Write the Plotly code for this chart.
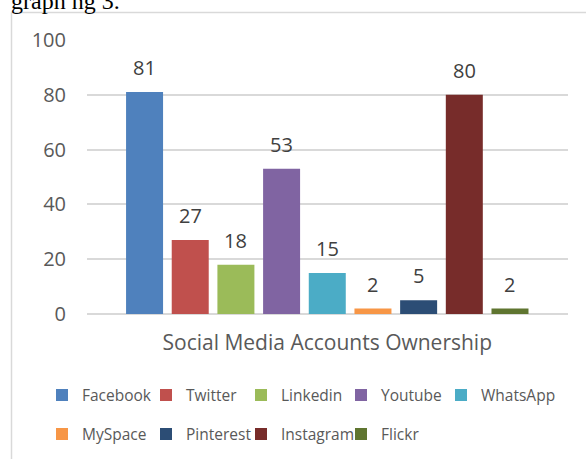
import plotly.graph_objects as go

# ---- data ----
platforms = ["Facebook", "Twitter", "Linkedin", "Youtube", "WhatsApp",
             "MySpace", "Pinterest", "Instagram", "Flickr"]
counts = [81, 27, 18, 53, 15, 2, 5, 80, 2]
colors = ["#4f81bd", "#c0504d", "#9bbb59", "#8064a2", "#4bacc6",
          "#f79646", "#2c4d75", "#772c2a", "#5f7530"]
category_label = "Social Media Accounts Ownership"
y_ticks = [0, 20, 40, 60, 80, 100]

FONT = "Open Sans"
GRAY = "#595959"
GRID = "#d9d9d9"

# plot-area geometry (pixels) used to convert to paper coordinates
L, R, T, B = 87, 18, 40, 145.3
W, H = 586, 459
PW, PH = W - L - R, H - T - B


def px_x(px):
    return (px - L) / PW


def px_y(py):
    return (H - B - py) / PH


# legend grid: 5 columns, 2 rows (each entry gets its own legend box)
LEG_COLS = [42, 146, 241, 341, 441]
LEG_ROWS = [395, 434]
N_COLS = 5


def legend_id(i):
    return "legend" if i == 0 else f"legend{i + 1}"


fig = go.Figure()
positions = list(range(len(platforms)))
legend_layouts = {}
for i, (name, val, col) in enumerate(zip(platforms, counts, colors)):
    lid = legend_id(i)
    fig.add_trace(go.Bar(
        x=[positions[i]], y=[val], name=name, width=0.81,
        marker=dict(color=col, line=dict(width=0)),
        legend=lid, showlegend=True,
    ))
    fig.add_annotation(x=positions[i], y=val, text=str(val), showarrow=False,
                       yanchor="middle", yshift=24.5,
                       font=dict(family=FONT, size=20, color="#404040"))
    legend_layouts[lid] = dict(
        orientation="h", xref="paper", yref="paper",
        xanchor="left", yanchor="middle",
        x=px_x(LEG_COLS[i % N_COLS]), y=px_y(LEG_ROWS[i // N_COLS]),
        font=dict(family=FONT, size=15.5, color=GRAY),
        bgcolor="rgba(0,0,0,0)", itemclick=False, itemdoubleclick=False,
    )

center = (positions[0] + positions[-1]) / 2

# frame lines (top and left of chart area border)
fig.add_shape(type="line", xref="paper", yref="paper",
              x0=px_x(11.5), x1=px_x(590), y0=px_y(12.5), y1=px_y(12.5),
              line=dict(color=GRID, width=1.5))
fig.add_shape(type="line", xref="paper", yref="paper",
              x0=px_x(11.5), x1=px_x(11.5), y0=px_y(12.5), y1=px_y(465),
              line=dict(color=GRID, width=1.5))

# partially visible caption text above the chart
fig.add_annotation(xref="paper", yref="paper", x=px_x(9), y=px_y(1),
                   xanchor="left", yanchor="middle", showarrow=False,
                   text="graph ng 3.",
                   font=dict(family="Liberation Serif", size=24, color="#000000"))

fig.update_layout(
    width=W, height=H,
    margin=dict(l=L, r=R, t=T, b=B, autoexpand=False),
    paper_bgcolor="white", plot_bgcolor="white",
    barmode="overlay",
    showlegend=True,
    font=dict(family=FONT, color=GRAY),
    xaxis=dict(
        range=[-1.26, 9.27], tickvals=[center], ticktext=[category_label],
        showgrid=False, zeroline=False, showline=False, ticks="",
        ticklabelstandoff=14,
        tickfont=dict(family=FONT, size=21, color=GRAY), fixedrange=True,
    ),
    yaxis=dict(
        range=[0, 100], tickvals=y_ticks, showgrid=True, gridcolor=GRID,
        gridwidth=1.5, zeroline=True, zerolinecolor=GRID, zerolinewidth=1.5,
        showline=False, ticks="", ticklabelstandoff=20,
        tickfont=dict(family=FONT, size=20, color=GRAY), fixedrange=True,
    ),
    **legend_layouts,
)

fig.write_html(
    "out.html",
    config={"displayModeBar": False},
    post_script="document.body.style.margin='0';document.body.style.padding='0';",
)
